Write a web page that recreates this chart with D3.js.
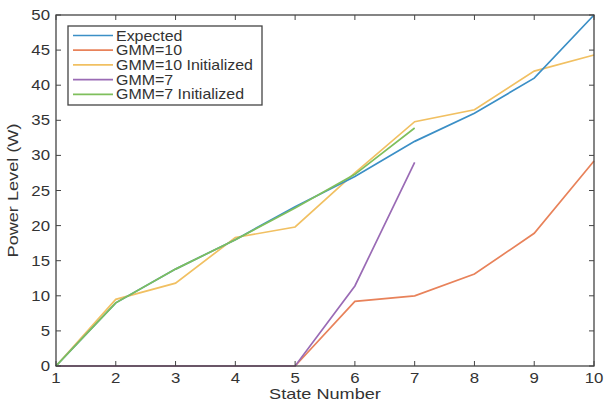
<!DOCTYPE html>
<html>
<head>
<meta charset="utf-8">
<script src="https://cdn.jsdelivr.net/npm/d3@7"></script>
<style>
  body { margin: 0; background: #fff; }
  text { font-family: "Liberation Sans", Arial, sans-serif; fill: #333; }
</style>
</head>
<body>
<div id="chart-container"></div>
<script>
var states = [1, 2, 3, 4, 5, 6, 7, 8, 9, 10]
var expected = [0, 9, 13.8, 18, 22.7, 27, 32, 36, 41, 50]
var gmm10 = [0, 0, 0, 0, 0, 9.2, 10, 13.1, 18.9, 29.2]
var gmm10Init = [0, 9.5, 11.8, 18.3, 19.8, 27.5, 34.8, 36.5, 42, 44.3]
var gmm7 = [0, 0, 0, 0, 0, 11.4, 29]
var gmm7Init = [0, 9, 13.8, 18, 22.5, 27.3, 33.9]
var yTicks = [0, 5, 10, 15, 20, 25, 30, 35, 40, 45, 50]

var series = [
  { name: 'Expected', values: expected, color: '#3b8fc6' },
  { name: 'GMM=10', values: gmm10, color: '#e8825a' },
  { name: 'GMM=10 Initialized', values: gmm10Init, color: '#f1c062' },
  { name: 'GMM=7', values: gmm7, color: '#9a6bb5' },
  { name: 'GMM=7 Initialized', values: gmm7Init, color: '#7fbf5c' }
]

var width = 604, height = 401
var m = { left: 56, right: 10, top: 15, bottom: 35 }

var svg = d3.select("#chart-container").append("svg").attr('width', width).attr('height', height)

var x = d3.scaleLinear().domain([1, 10]).range([m.left, width - m.right])
var y = d3.scaleLinear().domain([0, 50]).range([height - m.bottom, m.top])

// text in the original is stretched sideways
function label(parent, tx, ty, str, size, anchor, sx, rot) {
  return parent.append("text")
    .attr("transform", "translate(" + tx + "," + ty + ")" + (rot ? " rotate(" + rot + ")" : "") + " scale(" + sx + ",1)")
    .attr("text-anchor", anchor).attr("font-size", size).text(str)
}

// draw order: later on top
var order = [1, 3, 2, 0, 4]
var line = d3.line().x(function(d, i) { return x(states[i]) }).y(function(d) { return y(d) })
order.forEach(function(k) {
  svg.append("path")
    .datum(series[k].values)
    .attr("fill", "none")
    .attr("stroke", series[k].color)
    .attr("stroke-width", 1.7)
    .attr("d", line)
})

// box + ticks
var axisColor = '#444'
svg.append("rect").attr("x", x(1)).attr("y", y(50)).attr("width", x(10) - x(1)).attr("height", y(0) - y(50))
  .attr("fill", "none").attr("stroke", axisColor).attr("stroke-width", 1.3)

var tl = 5
states.forEach(function(s) {
  svg.append("line").attr("x1", x(s)).attr("x2", x(s)).attr("y1", y(0)).attr("y2", y(0) - tl).attr("stroke", axisColor)
  svg.append("line").attr("x1", x(s)).attr("x2", x(s)).attr("y1", y(50)).attr("y2", y(50) + tl).attr("stroke", axisColor)
  label(svg, x(s), y(0) + 17, s, 14, "middle", 1.2)
})
yTicks.forEach(function(t) {
  svg.append("line").attr("x1", x(1)).attr("x2", x(1) + tl).attr("y1", y(t)).attr("y2", y(t)).attr("stroke", axisColor)
  svg.append("line").attr("x1", x(10)).attr("x2", x(10) - tl).attr("y1", y(t)).attr("y2", y(t)).attr("stroke", axisColor)
  label(svg, x(1) - 6, y(t) + 5, t, 14, "end", 1.2)
})

label(svg, (x(1) + x(10)) / 2, 399, "State Number", 14.5, "middle", 1.25)
label(svg, 18, (y(0) + y(50)) / 2, "Power Level (W)", 14.5, "middle", 1.25, -90)

// legend
var lg = svg.append("g").attr("transform", "translate(68,26)")
lg.append("rect").attr("width", 194).attr("height", 79).attr("fill", "#fff").attr("stroke", axisColor).attr("stroke-width", 1.3)
series.forEach(function(s, i) {
  var yy = 9.5 + i * 14.7
  lg.append("line").attr("x1", 5).attr("x2", 45).attr("y1", yy).attr("y2", yy).attr("stroke", s.color).attr("stroke-width", 1.7)
  label(lg, 48, yy + 5, s.name, 14, "start", 1.14)
})
</script>
</body>
</html>
